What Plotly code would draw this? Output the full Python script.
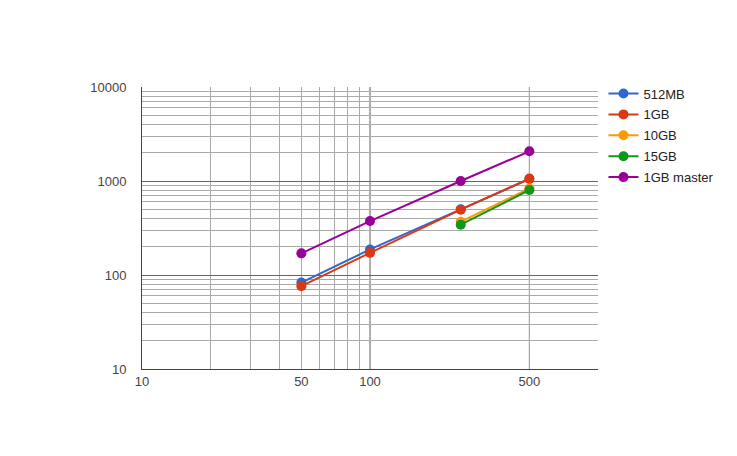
import plotly.graph_objects as go

series_names = ["512MB", "1GB", "10GB", "15GB", "1GB master"]
series_x = [
    [50, 100, 250, 500],
    [50, 100, 250, 500],
    [250, 500],
    [250, 500],
    [50, 100, 250, 500],
]
series_y = [
    [83, 187, 500, 1050],
    [76, 172, 495, 1060],
    [369, 834],
    [343, 802],
    [170, 375, 1000, 2070],
]
colors = ["#3366cc", "#dc3912", "#ff9900", "#109618", "#990099"]

x_tick_vals = [10, 50, 100, 500]
x_tick_text = ["10", "50", "100", "500"]
x_minor_vals = [20, 30, 40, 60, 70, 80, 90]
x_dark_vals = [100, 500]
y_tick_vals = [10, 100, 1000, 10000]
y_tick_text = ["10", "100", "1000", "10000"]
y_minor_vals = [m * d for d in [10, 100, 1000] for m in range(2, 10)]

fig = go.Figure()
for name, xs, ys, c in zip(series_names, series_x, series_y, colors):
    fig.add_trace(go.Scatter(
        x=xs, y=ys, name=name, mode="lines+markers", legendgroup=name,
        line=dict(color=c, width=2),
        marker=dict(color=c, size=10),
    ))

shapes = []
for v in x_dark_vals:
    shapes.append(dict(type="line", xref="x", yref="paper", x0=v, x1=v, y0=0, y1=1,
                       line=dict(color="#666666", width=1), layer="below"))

fig.update_layout(
    width=737, height=456,
    margin=dict(l=134, r=147, t=79, b=95),
    paper_bgcolor="white", plot_bgcolor="white",
    font=dict(family="Liberation Sans, Arial, sans-serif", size=13, color="#444444"),
    showlegend=True,
    legend=dict(x=1.012, y=1.03, xanchor="left", yanchor="top",
                font=dict(size=13, color="#222222"),
                itemwidth=30, tracegroupgap=1),
    shapes=shapes,
    xaxis=dict(
        type="log", range=[1, 3],
        tickmode="array", tickvals=x_tick_vals, ticktext=x_tick_text,
        showgrid=True, gridcolor="#aaaaaa", gridwidth=1,
        minor=dict(tickmode="array", tickvals=x_minor_vals, showgrid=True,
                   gridcolor="#aaaaaa", gridwidth=1, ticks=""),
        showline=True, linecolor="#444444", linewidth=1,
        zeroline=False, ticks="", tickfont=dict(size=13, color="#444444"),
    ),
    yaxis=dict(
        type="log", range=[1, 4],
        tickmode="array", tickvals=y_tick_vals, ticktext=y_tick_text,
        showgrid=True, gridcolor="#666666", gridwidth=1,
        minor=dict(tickmode="array", tickvals=y_minor_vals, showgrid=True,
                   gridcolor="#aaaaaa", gridwidth=1, ticks=""),
        showline=True, linecolor="#444444", linewidth=1,
        zeroline=False, ticks="", ticklabelstandoff=12,
        tickfont=dict(size=13, color="#444444"),
    ),
)

fig.write_html("out.html")
